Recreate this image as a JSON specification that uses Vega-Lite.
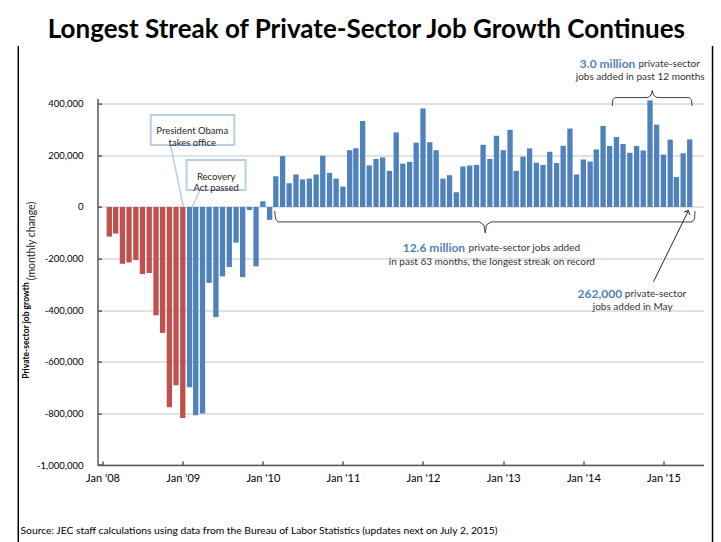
{
  "$schema": "https://vega.github.io/schema/vega-lite/v6.json",
  "width": 606,
  "height": 366.4,
  "autosize": {"type": "none"},
  "padding": {"left": 97.5, "top": 98.6, "right": 17.5, "bottom": 77},
  "background": "white",
  "datasets": {
    "jobs": [
      {"date": "2008-02-01T00:00", "value": -115000, "admin": "Bush"},
      {"date": "2008-03-01T00:00", "value": -103000, "admin": "Bush"},
      {"date": "2008-04-01T00:00", "value": -220000, "admin": "Bush"},
      {"date": "2008-05-01T00:00", "value": -215000, "admin": "Bush"},
      {"date": "2008-06-01T00:00", "value": -206000, "admin": "Bush"},
      {"date": "2008-07-01T00:00", "value": -260000, "admin": "Bush"},
      {"date": "2008-08-01T00:00", "value": -256000, "admin": "Bush"},
      {"date": "2008-09-01T00:00", "value": -420000, "admin": "Bush"},
      {"date": "2008-10-01T00:00", "value": -488000, "admin": "Bush"},
      {"date": "2008-11-01T00:00", "value": -776000, "admin": "Bush"},
      {"date": "2008-12-01T00:00", "value": -691000, "admin": "Bush"},
      {"date": "2009-01-01T00:00", "value": -818000, "admin": "Bush"},
      {"date": "2009-02-01T00:00", "value": -699000, "admin": "Obama"},
      {"date": "2009-03-01T00:00", "value": -807000, "admin": "Obama"},
      {"date": "2009-04-01T00:00", "value": -800000, "admin": "Obama"},
      {"date": "2009-05-01T00:00", "value": -294000, "admin": "Obama"},
      {"date": "2009-06-01T00:00", "value": -427000, "admin": "Obama"},
      {"date": "2009-07-01T00:00", "value": -269000, "admin": "Obama"},
      {"date": "2009-08-01T00:00", "value": -233000, "admin": "Obama"},
      {"date": "2009-09-01T00:00", "value": -138000, "admin": "Obama"},
      {"date": "2009-10-01T00:00", "value": -272000, "admin": "Obama"},
      {"date": "2009-11-01T00:00", "value": -12000, "admin": "Obama"},
      {"date": "2009-12-01T00:00", "value": -230000, "admin": "Obama"},
      {"date": "2010-01-01T00:00", "value": 22000, "admin": "Obama"},
      {"date": "2010-02-01T00:00", "value": -50000, "admin": "Obama"},
      {"date": "2010-03-01T00:00", "value": 119000, "admin": "Obama"},
      {"date": "2010-04-01T00:00", "value": 197000, "admin": "Obama"},
      {"date": "2010-05-01T00:00", "value": 92000, "admin": "Obama"},
      {"date": "2010-06-01T00:00", "value": 126000, "admin": "Obama"},
      {"date": "2010-07-01T00:00", "value": 107000, "admin": "Obama"},
      {"date": "2010-08-01T00:00", "value": 110000, "admin": "Obama"},
      {"date": "2010-09-01T00:00", "value": 126000, "admin": "Obama"},
      {"date": "2010-10-01T00:00", "value": 199000, "admin": "Obama"},
      {"date": "2010-11-01T00:00", "value": 132000, "admin": "Obama"},
      {"date": "2010-12-01T00:00", "value": 110000, "admin": "Obama"},
      {"date": "2011-01-01T00:00", "value": 79000, "admin": "Obama"},
      {"date": "2011-02-01T00:00", "value": 220000, "admin": "Obama"},
      {"date": "2011-03-01T00:00", "value": 228000, "admin": "Obama"},
      {"date": "2011-04-01T00:00", "value": 333000, "admin": "Obama"},
      {"date": "2011-05-01T00:00", "value": 161000, "admin": "Obama"},
      {"date": "2011-06-01T00:00", "value": 186000, "admin": "Obama"},
      {"date": "2011-07-01T00:00", "value": 192000, "admin": "Obama"},
      {"date": "2011-08-01T00:00", "value": 140000, "admin": "Obama"},
      {"date": "2011-09-01T00:00", "value": 289000, "admin": "Obama"},
      {"date": "2011-10-01T00:00", "value": 168000, "admin": "Obama"},
      {"date": "2011-11-01T00:00", "value": 175000, "admin": "Obama"},
      {"date": "2011-12-01T00:00", "value": 249000, "admin": "Obama"},
      {"date": "2012-01-01T00:00", "value": 382000, "admin": "Obama"},
      {"date": "2012-02-01T00:00", "value": 251000, "admin": "Obama"},
      {"date": "2012-03-01T00:00", "value": 220000, "admin": "Obama"},
      {"date": "2012-04-01T00:00", "value": 110000, "admin": "Obama"},
      {"date": "2012-05-01T00:00", "value": 123000, "admin": "Obama"},
      {"date": "2012-06-01T00:00", "value": 57000, "admin": "Obama"},
      {"date": "2012-07-01T00:00", "value": 157000, "admin": "Obama"},
      {"date": "2012-08-01T00:00", "value": 161000, "admin": "Obama"},
      {"date": "2012-09-01T00:00", "value": 163000, "admin": "Obama"},
      {"date": "2012-10-01T00:00", "value": 241000, "admin": "Obama"},
      {"date": "2012-11-01T00:00", "value": 186000, "admin": "Obama"},
      {"date": "2012-12-01T00:00", "value": 276000, "admin": "Obama"},
      {"date": "2013-01-01T00:00", "value": 220000, "admin": "Obama"},
      {"date": "2013-02-01T00:00", "value": 299000, "admin": "Obama"},
      {"date": "2013-03-01T00:00", "value": 140000, "admin": "Obama"},
      {"date": "2013-04-01T00:00", "value": 195000, "admin": "Obama"},
      {"date": "2013-05-01T00:00", "value": 227000, "admin": "Obama"},
      {"date": "2013-06-01T00:00", "value": 172000, "admin": "Obama"},
      {"date": "2013-07-01T00:00", "value": 163000, "admin": "Obama"},
      {"date": "2013-08-01T00:00", "value": 214000, "admin": "Obama"},
      {"date": "2013-09-01T00:00", "value": 170000, "admin": "Obama"},
      {"date": "2013-10-01T00:00", "value": 237000, "admin": "Obama"},
      {"date": "2013-11-01T00:00", "value": 304000, "admin": "Obama"},
      {"date": "2013-12-01T00:00", "value": 126000, "admin": "Obama"},
      {"date": "2014-01-01T00:00", "value": 184000, "admin": "Obama"},
      {"date": "2014-02-01T00:00", "value": 176000, "admin": "Obama"},
      {"date": "2014-03-01T00:00", "value": 223000, "admin": "Obama"},
      {"date": "2014-04-01T00:00", "value": 314000, "admin": "Obama"},
      {"date": "2014-05-01T00:00", "value": 236000, "admin": "Obama"},
      {"date": "2014-06-01T00:00", "value": 271000, "admin": "Obama"},
      {"date": "2014-07-01T00:00", "value": 244000, "admin": "Obama"},
      {"date": "2014-08-01T00:00", "value": 210000, "admin": "Obama"},
      {"date": "2014-09-01T00:00", "value": 236000, "admin": "Obama"},
      {"date": "2014-10-01T00:00", "value": 219000, "admin": "Obama"},
      {"date": "2014-11-01T00:00", "value": 413000, "admin": "Obama"},
      {"date": "2014-12-01T00:00", "value": 319000, "admin": "Obama"},
      {"date": "2015-01-01T00:00", "value": 203000, "admin": "Obama"},
      {"date": "2015-02-01T00:00", "value": 261000, "admin": "Obama"},
      {"date": "2015-03-01T00:00", "value": 116000, "admin": "Obama"},
      {"date": "2015-04-01T00:00", "value": 208000, "admin": "Obama"},
      {"date": "2015-05-01T00:00", "value": 262000, "admin": "Obama"}
    ],
    "boxes": [
      {"label": "President Obama\ntakes office", "start": "2008-08-08T00:00", "end": "2009-08-24T00:00", "top": 356600, "bottom": 240300, "cx": "2009-02-13T00:00", "cy": 295000},
      {"label": "Recovery\nAct passed", "start": "2009-01-18T00:00", "end": "2009-10-14T00:00", "top": 182000, "bottom": 66000, "cx": "2009-06-02T00:00", "cy": 117000}
    ],
    "connectors": [
      {"id": "obama", "ord": 1, "date": "2008-11-06T00:00", "value": 240300},
      {"id": "obama", "ord": 2, "date": "2009-01-04T00:00", "value": 0},
      {"id": "arra", "ord": 1, "date": "2009-03-21T00:00", "value": 66000},
      {"id": "arra", "ord": 2, "date": "2009-02-13T00:00", "value": 0}
    ],
    "braces": [
      {"id": "b12", "ord": 1, "date": "2014-05-13T00:00", "value": 391000},
      {"id": "b12", "ord": 2, "date": "2014-05-15T00:00", "value": 415000},
      {"id": "b12", "ord": 3, "date": "2014-05-26T00:00", "value": 424000},
      {"id": "b12", "ord": 4, "date": "2014-10-22T00:00", "value": 424000},
      {"id": "b12", "ord": 5, "date": "2014-11-06T00:00", "value": 434000},
      {"id": "b12", "ord": 6, "date": "2014-11-11T00:00", "value": 451500},
      {"id": "b12", "ord": 7, "date": "2014-11-17T00:00", "value": 434000},
      {"id": "b12", "ord": 8, "date": "2014-12-03T00:00", "value": 424000},
      {"id": "b12", "ord": 9, "date": "2015-04-28T00:00", "value": 424000},
      {"id": "b12", "ord": 10, "date": "2015-05-09T00:00", "value": 415000},
      {"id": "b12", "ord": 11, "date": "2015-05-12T00:00", "value": 391000},
      {"id": "b63", "ord": 1, "date": "2010-02-24T00:00", "value": -15500},
      {"id": "b63", "ord": 2, "date": "2010-02-28T00:00", "value": -46500},
      {"id": "b63", "ord": 3, "date": "2010-03-11T00:00", "value": -58000},
      {"id": "b63", "ord": 4, "date": "2012-09-15T00:00", "value": -58000},
      {"id": "b63", "ord": 5, "date": "2012-10-05T00:00", "value": -70000},
      {"id": "b63", "ord": 6, "date": "2012-10-11T00:00", "value": -101000},
      {"id": "b63", "ord": 7, "date": "2012-10-16T00:00", "value": -70000},
      {"id": "b63", "ord": 8, "date": "2012-11-06T00:00", "value": -58000},
      {"id": "b63", "ord": 9, "date": "2015-05-12T00:00", "value": -58000},
      {"id": "b63", "ord": 10, "date": "2015-05-23T00:00", "value": -46500},
      {"id": "b63", "ord": 11, "date": "2015-05-25T00:00", "value": -15500}
    ],
    "arrow": [
      {"ord": 1, "date": "2014-11-17T00:00", "value": -289500},
      {"ord": 2, "date": "2015-04-25T00:00", "value": -14300}
    ],
    "arrowHead": [
      {"date": "2015-04-25T00:00", "value": -14300}
    ],
    "frame": [
      {"date": "2006-12-13T00:00"},
      {"date": "2015-08-13T00:00"}
    ],
    "heading": [
      {"date": "2011-04-18T00:00", "value": 655000, "text": "Longest Streak of Private-Sector Job Growth Continues"}
    ],
    "axisNote": [
      {"date": "2007-02-12T00:00", "value": -132000, "text": "(monthly change)"}
    ],
    "blueText": [
      {"date": "2012-07-11T00:00", "value": -160000, "text": "12.6 million"},
      {"date": "2014-08-26T00:00", "value": 554000, "text": "3.0 million"},
      {"date": "2014-06-27T00:00", "value": -336000, "text": "262,000"}
    ],
    "grayLeft": [
      {"date": "2012-07-27T00:00", "value": -160000, "text": "private-sector jobs added"},
      {"date": "2014-09-09T00:00", "value": 554000, "text": "private-sector"},
      {"date": "2014-07-09T00:00", "value": -336000, "text": "private-sector"}
    ],
    "grayCenter": [
      {"date": "2012-11-10T00:00", "value": -212000, "text": "in past 63 months, the longest streak on record"},
      {"date": "2014-09-17T00:00", "value": 503000, "text": "jobs added in past 12 months"},
      {"date": "2014-08-14T00:00", "value": -386000, "text": "jobs added in May"}
    ]
  },
  "layer": [
    {
      "data": {"name": "jobs"},
      "mark": {"type": "bar", "orient": "vertical", "size": 5.3},
      "encoding": {
        "x": {
          "field": "date", "type": "temporal",
          "scale": {"domain": [{"year": 2008, "month": 1, "date": 1}, {"year": 2015, "month": 6, "date": 10}], "nice": false},
          "axis": {
            "values": [
              {"year": 2008, "month": 1, "date": 1}, {"year": 2009, "month": 1, "date": 1},
              {"year": 2010, "month": 1, "date": 1}, {"year": 2011, "month": 1, "date": 1},
              {"year": 2012, "month": 1, "date": 1}, {"year": 2013, "month": 1, "date": 1},
              {"year": 2014, "month": 1, "date": 1}, {"year": 2015, "month": 1, "date": 1}
            ],
            "format": "%b '%y",
            "labelFont": "Lato", "labelFontSize": 11, "labelColor": "#000000",
            "labelFlush": false, "labelOverlap": false, "labelPadding": 11, "labelAlign": "center",
            "tickSize": -4, "tickColor": "#595959", "tickWidth": 1.5,
            "domainColor": "#595959", "domainWidth": 1.5, "grid": false,
            "title": "Source: JEC staff calculations using data from the Bureau of Labor Statistics (updates next on July 2, 2015)",
            "titleX": -77.5, "titleY": 65, "titleAlign": "left", "titleBaseline": "middle",
            "titleFont": "Lato", "titleFontSize": 10.3, "titleFontWeight": "normal", "titleColor": "#000000"
          }
        },
        "y": {
          "field": "value", "type": "quantitative",
          "scale": {"domain": [-1000000, 420000], "nice": false},
          "axis": {
            "values": [-1000000, -800000, -600000, -400000, -200000, 0, 200000, 400000],
            "labelExpr": "replace(format(datum.value, ','), '−', '-')",
            "labelFont": "Lato", "labelFontSize": 9.5, "labelColor": "#000000", "labelPadding": 18.5,
            "tickSize": -4, "tickColor": "#595959", "tickWidth": 1.5,
            "domainColor": "#595959", "domainWidth": 1.5,
            "grid": true, "gridColor": "#d9d9d9", "gridWidth": 1.5,
            "title": "Private-sector job growth",
            "titleFont": "Lato", "titleFontSize": 8.5, "titleFontWeight": "bold", "titleColor": "#000000",
            "titleX": -72, "titleY": 231.4, "titleAngle": -90, "titleAlign": "center", "titleBaseline": "middle"
          }
        },
        "color": {
          "field": "admin", "type": "nominal",
          "scale": {"domain": ["Bush", "Obama"], "range": ["#c0504d", "#4f81bd"]},
          "legend": null
        }
      }
    },
    {
      "mark": {"type": "rule", "color": "#6d6d6d", "strokeWidth": 1.5},
      "encoding": {"y": {"datum": 0}}
    },
    {
      "data": {"name": "connectors"},
      "mark": {"type": "line", "color": "#b9cde5", "strokeWidth": 1.5},
      "encoding": {
        "x": {"field": "date", "type": "temporal"},
        "y": {"field": "value", "type": "quantitative"},
        "detail": {"field": "id"},
        "order": {"field": "ord"}
      }
    },
    {
      "data": {"name": "boxes"},
      "mark": {"type": "rect", "fill": "white", "stroke": "#b9cde5", "strokeWidth": 2},
      "encoding": {
        "x": {"field": "start", "type": "temporal"},
        "x2": {"field": "end"},
        "y": {"field": "top", "type": "quantitative"},
        "y2": {"field": "bottom"}
      }
    },
    {
      "data": {"name": "boxes"},
      "mark": {"type": "text", "font": "Lato", "fontSize": 9.5, "color": "#262626", "align": "center", "baseline": "middle", "lineBreak": "\n", "lineHeight": 11.7},
      "encoding": {
        "x": {"field": "cx", "type": "temporal"},
        "y": {"field": "cy", "type": "quantitative"},
        "text": {"field": "label"}
      }
    },
    {
      "data": {"name": "braces"},
      "mark": {"type": "line", "color": "#404040", "strokeWidth": 1},
      "encoding": {
        "x": {"field": "date", "type": "temporal"},
        "y": {"field": "value", "type": "quantitative"},
        "detail": {"field": "id"},
        "order": {"field": "ord"}
      }
    },
    {
      "data": {"name": "arrow"},
      "mark": {"type": "line", "color": "#262626", "strokeWidth": 1},
      "encoding": {
        "x": {"field": "date", "type": "temporal"},
        "y": {"field": "value", "type": "quantitative"},
        "order": {"field": "ord"}
      }
    },
    {
      "data": {"name": "arrowHead"},
      "mark": {"type": "point", "shape": "M -1 1 L 0 0 L 1 1", "filled": false, "stroke": "#262626", "strokeWidth": 1, "size": 40, "angle": 26.4, "opacity": 1},
      "encoding": {
        "x": {"field": "date", "type": "temporal"},
        "y": {"field": "value", "type": "quantitative"}
      }
    },
    {
      "data": {"name": "blueText"},
      "mark": {"type": "text", "font": "Lato", "fontSize": 12, "fontWeight": "bold", "color": "#4f81bd", "align": "right", "baseline": "middle"},
      "encoding": {
        "x": {"field": "date", "type": "temporal"},
        "y": {"field": "value", "type": "quantitative"},
        "text": {"field": "text"}
      }
    },
    {
      "data": {"name": "grayLeft"},
      "mark": {"type": "text", "font": "Lato", "fontSize": 10, "color": "#333333", "align": "left", "baseline": "middle"},
      "encoding": {
        "x": {"field": "date", "type": "temporal"},
        "y": {"field": "value", "type": "quantitative"},
        "text": {"field": "text"}
      }
    },
    {
      "data": {"name": "grayCenter"},
      "mark": {"type": "text", "font": "Lato", "fontSize": 10, "color": "#333333", "align": "center", "baseline": "middle"},
      "encoding": {
        "x": {"field": "date", "type": "temporal"},
        "y": {"field": "value", "type": "quantitative"},
        "text": {"field": "text"}
      }
    },
    {
      "data": {"name": "axisNote"},
      "mark": {"type": "text", "font": "Lato", "fontSize": 10.5, "color": "#262626", "align": "center", "baseline": "middle", "angle": 270},
      "encoding": {
        "x": {"field": "date", "type": "temporal"},
        "y": {"field": "value", "type": "quantitative"},
        "text": {"field": "text"}
      }
    },
    {
      "data": {"name": "heading"},
      "mark": {"type": "text", "font": "Lato", "fontSize": 26, "fontWeight": "bold", "color": "#000000", "align": "center", "baseline": "alphabetic"},
      "encoding": {
        "x": {"field": "date", "type": "temporal"},
        "y": {"field": "value", "type": "quantitative"},
        "text": {"field": "text"}
      }
    },
    {
      "data": {"name": "frame"},
      "mark": {"type": "rule", "color": "#000000", "strokeWidth": 1.5},
      "encoding": {
        "x": {"field": "date", "type": "temporal"},
        "y": {"datum": 624000},
        "y2": {"datum": -1298000}
      }
    }
  ],
  "config": {"view": {"stroke": null}, "font": "Lato"}
}
